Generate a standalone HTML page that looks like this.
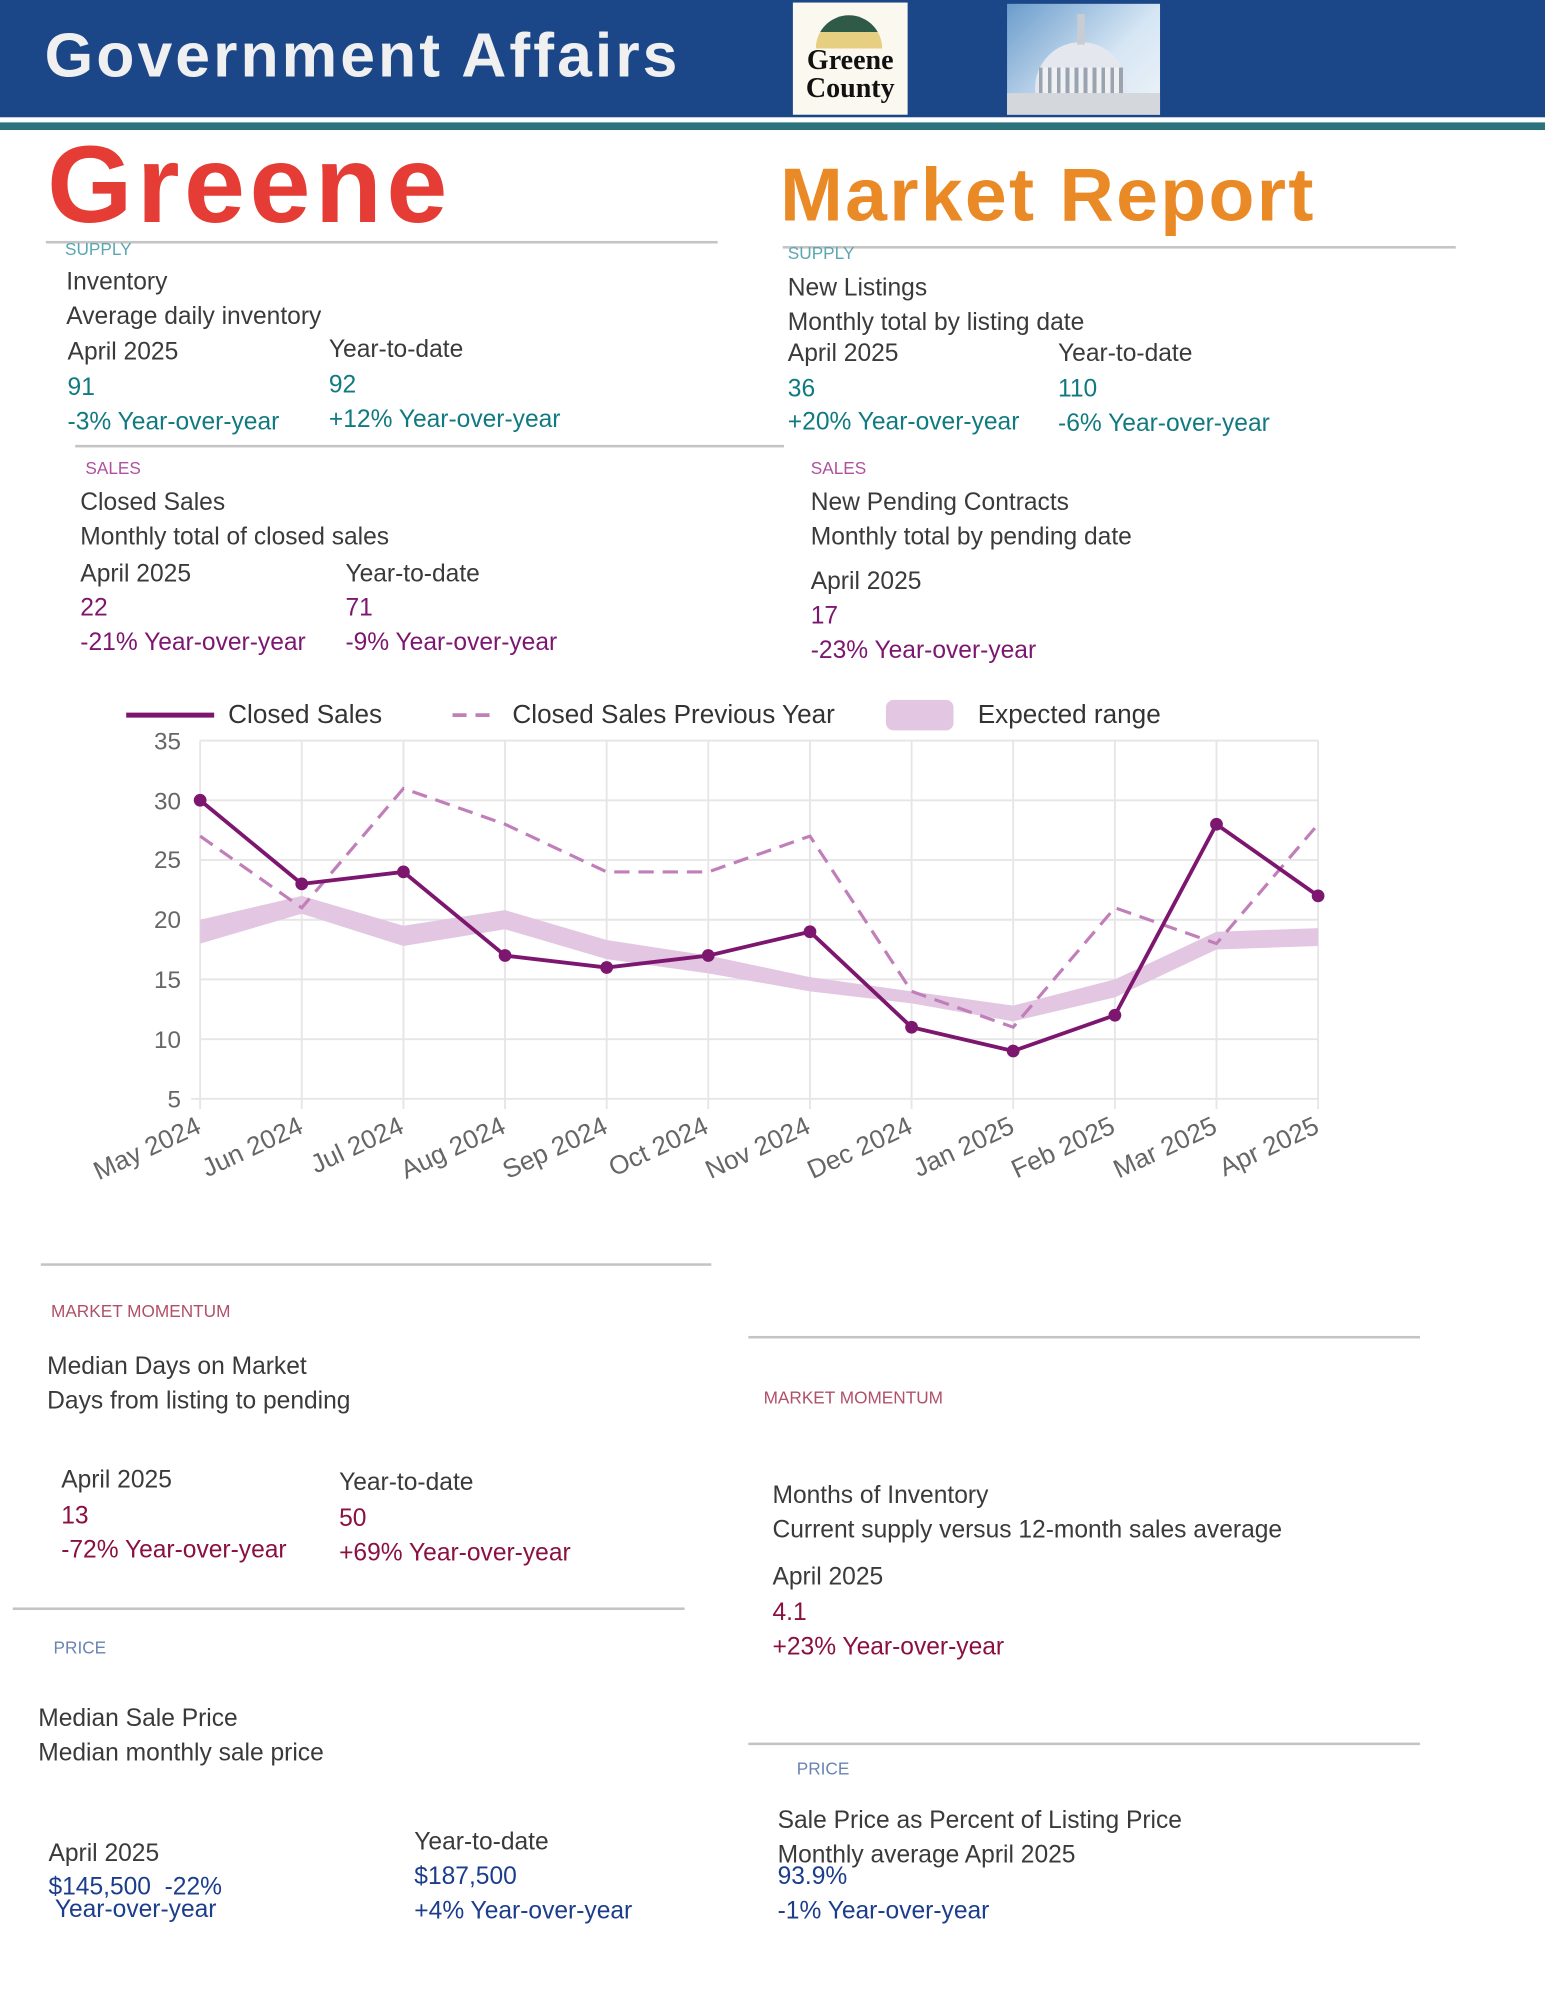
<!DOCTYPE html>
<html><head><meta charset="utf-8"><style>
html,body{margin:0;padding:0;background:#fff;}
body{width:1545px;height:1999px;overflow:hidden;position:relative;}
#w{position:absolute;left:0;top:0;width:1212px;height:1568px;transform:scale(1.27475);transform-origin:0 0;font-family:"Liberation Sans",Arial,sans-serif;}
.t{position:absolute;font-size:19.3px;line-height:20px;white-space:pre;color:#3a3a3a;}
.l{position:absolute;font-size:13.5px;line-height:14px;white-space:pre;}
.hr{position:absolute;height:2px;background:#c4c4c4;}
.tl{color:#117a80}.pu{color:#7d166f}.dr{color:#8a1040}.bl{color:#1b3d8c}
</style></head><body><div id="w">
<div style="position:absolute;left:0;top:0;width:1212px;height:92px;background:#1b4789"></div>
<div style="position:absolute;left:0;top:96px;width:1212px;height:6px;background:#2c727c"></div>
<div style="position:absolute;left:35px;top:15px;font-size:49px;font-weight:bold;color:#f0f0f0;line-height:58px;letter-spacing:2.4px">Government Affairs</div>
<div style="position:absolute;left:622px;top:2px;width:90px;height:88px;background:#fbf8ef;overflow:hidden">
 <div style="position:absolute;left:18px;top:10px;width:52px;height:26px;border-radius:26px 26px 0 0;background:linear-gradient(#2f5a48 50%,#e6cf80 50%)"></div>
 <div style="position:absolute;left:0;width:90px;top:34px;text-align:center;font-family:'Liberation Serif',serif;font-weight:bold;font-size:22px;line-height:22px;color:#111">Greene<br>County</div>
</div>
<div style="position:absolute;left:790px;top:3px;width:120px;height:87px;background:linear-gradient(135deg,#6b9ccc,#d6e6f4 60%,#eef3f8)">
 <div style="position:absolute;left:22px;top:30px;width:72px;height:40px;border-radius:36px 36px 0 0;background:#e4e8ee"></div>
 <div style="position:absolute;left:25px;top:50px;width:66px;height:22px;background:repeating-linear-gradient(90deg,#9aa3b0 0 3px,#eef0f4 3px 7px)"></div>
 <div style="position:absolute;left:0;top:70px;width:120px;height:17px;background:#d4d7dc"></div>
 <div style="position:absolute;left:55px;top:8px;width:6px;height:24px;background:#c8ccd3"></div>
</div>
<div style="position:absolute;left:37px;top:95px;font-size:86px;font-weight:bold;color:#e53d36;line-height:100px;letter-spacing:3.5px">Greene</div>
<div style="position:absolute;left:612px;top:118px;font-size:59px;font-weight:bold;color:#ea8a27;line-height:70px;letter-spacing:1.8px">Market Report</div>

<div class="hr" style="left:36px;top:189px;width:527px"></div>
<div class="hr" style="left:614px;top:193px;width:528px"></div>
<div class="l" style="left:51px;top:189px;color:#5aa7b1">SUPPLY</div>
<div class="t" style="left:52px;top:212px">Inventory</div>
<div class="t" style="left:52px;top:239px">Average daily inventory</div>
<div class="t" style="left:53px;top:267px">April 2025</div>
<div class="t" style="left:258px;top:265px">Year-to-date</div>
<div class="t tl" style="left:53px;top:295px">91</div>
<div class="t tl" style="left:258px;top:293px">92</div>
<div class="t tl" style="left:53px;top:322px">-3% Year-over-year</div>
<div class="t tl" style="left:258px;top:320px">+12% Year-over-year</div>

<div class="l" style="left:618px;top:192px;color:#5aa7b1">SUPPLY</div>
<div class="t" style="left:618px;top:217px">New Listings</div>
<div class="t" style="left:618px;top:244px">Monthly total by listing date</div>
<div class="t" style="left:618px;top:268px">April 2025</div>
<div class="t" style="left:830px;top:268px">Year-to-date</div>
<div class="t tl" style="left:618px;top:296px">36</div>
<div class="t tl" style="left:830px;top:296px">110</div>
<div class="t tl" style="left:618px;top:322px">+20% Year-over-year</div>
<div class="t tl" style="left:830px;top:323px">-6% Year-over-year</div>

<div class="hr" style="left:59px;top:349px;width:556px"></div>
<div class="l" style="left:67px;top:361px;color:#b0509e">SALES</div>
<div class="t" style="left:63px;top:385px">Closed Sales</div>
<div class="t" style="left:63px;top:412px">Monthly total of closed sales</div>
<div class="t" style="left:63px;top:441px">April 2025</div>
<div class="t" style="left:271px;top:441px">Year-to-date</div>
<div class="t pu" style="left:63px;top:468px">22</div>
<div class="t pu" style="left:271px;top:468px">71</div>
<div class="t pu" style="left:63px;top:495px">-21% Year-over-year</div>
<div class="t pu" style="left:271px;top:495px">-9% Year-over-year</div>

<div class="l" style="left:636px;top:361px;color:#b0509e">SALES</div>
<div class="t" style="left:636px;top:385px">New Pending Contracts</div>
<div class="t" style="left:636px;top:412px">Monthly total by pending date</div>
<div class="t" style="left:636px;top:447px">April 2025</div>
<div class="t pu" style="left:636px;top:474px">17</div>
<div class="t pu" style="left:636px;top:501px">-23% Year-over-year</div>

<svg style="position:absolute;left:0;top:0" width="1212" height="960" font-family="Liberation Sans, Arial, sans-serif">
<g stroke="#e6e6e6" stroke-width="1.5">
<line x1="157" y1="581" x2="1034" y2="581"/><line x1="157" y1="627.8" x2="1034" y2="627.8"/><line x1="157" y1="674.6" x2="1034" y2="674.6"/><line x1="157" y1="721.5" x2="1034" y2="721.5"/><line x1="157" y1="768.3" x2="1034" y2="768.3"/><line x1="157" y1="815.2" x2="1034" y2="815.2"/><line x1="150" y1="862" x2="1034" y2="862"/>
<line x1="157" y1="581" x2="157" y2="870"/><line x1="236.7" y1="581" x2="236.7" y2="870"/><line x1="316.5" y1="581" x2="316.5" y2="870"/><line x1="396.2" y1="581" x2="396.2" y2="870"/><line x1="475.9" y1="581" x2="475.9" y2="870"/><line x1="555.6" y1="581" x2="555.6" y2="870"/><line x1="635.4" y1="581" x2="635.4" y2="870"/><line x1="715.1" y1="581" x2="715.1" y2="870"/><line x1="794.8" y1="581" x2="794.8" y2="870"/><line x1="874.6" y1="581" x2="874.6" y2="870"/><line x1="954.3" y1="581" x2="954.3" y2="870"/><line x1="1034" y1="581" x2="1034" y2="870"/>
</g>
<g fill="#666" font-size="19" text-anchor="end">
<text x="142" y="588">35</text><text x="142" y="635">30</text><text x="142" y="681">25</text><text x="142" y="728">20</text><text x="142" y="775">15</text><text x="142" y="822">10</text><text x="142" y="869">5</text>
</g>
<polygon fill="#e3c6e1" points="157,721.5 236.7,702.8 316.5,726.2 396.2,714 475.9,737.4 555.6,749.6 635.4,766.5 715.1,777.7 794.8,788.9 874.6,768.3 954.3,730.9 1034,728.1 1034,742.1 954.3,744.9 874.6,782.4 794.8,801.2 715.1,787.1 635.4,777.7 555.6,763.6 475.9,752.4 396.2,729 316.5,742.1 236.7,716.8 157,740.2"/>
<polyline fill="none" stroke="#c17fba" stroke-width="2.5" stroke-dasharray="12,7" points="157,655.9 236.7,712.1 316.5,618.5 396.2,646.6 475.9,684 555.6,684 635.4,655.9 715.1,777.7 794.8,805.8 874.6,712.1 954.3,740.2 1034,646.6"/>
<polyline fill="none" stroke="#7d166f" stroke-width="3" points="157,627.8 236.7,693.4 316.5,684 396.2,749.6 475.9,759 555.6,749.6 635.4,730.9 715.1,805.8 794.8,824.5 874.6,796.4 954.3,646.6 1034,702.8"/>
<g fill="#7d166f"><circle cx="157" cy="627.8" r="5"/><circle cx="236.7" cy="693.4" r="5"/><circle cx="316.5" cy="684" r="5"/><circle cx="396.2" cy="749.6" r="5"/><circle cx="475.9" cy="759" r="5"/><circle cx="555.6" cy="749.6" r="5"/><circle cx="635.4" cy="730.9" r="5"/><circle cx="715.1" cy="805.8" r="5"/><circle cx="794.8" cy="824.5" r="5"/><circle cx="874.6" cy="796.4" r="5"/><circle cx="954.3" cy="646.6" r="5"/><circle cx="1034" cy="702.8" r="5"/></g>
<g fill="#666" font-size="20.5" text-anchor="end">
<text transform="translate(159,888) rotate(-25)">May 2024</text>
<text transform="translate(239,888) rotate(-25)">Jun 2024</text>
<text transform="translate(318,888) rotate(-25)">Jul 2024</text>
<text transform="translate(398,888) rotate(-25)">Aug 2024</text>
<text transform="translate(478,888) rotate(-25)">Sep 2024</text>
<text transform="translate(557,888) rotate(-25)">Oct 2024</text>
<text transform="translate(637,888) rotate(-25)">Nov 2024</text>
<text transform="translate(717,888) rotate(-25)">Dec 2024</text>
<text transform="translate(797,888) rotate(-25)">Jan 2025</text>
<text transform="translate(876,888) rotate(-25)">Feb 2025</text>
<text transform="translate(956,888) rotate(-25)">Mar 2025</text>
<text transform="translate(1036,888) rotate(-25)">Apr 2025</text>
</g>
<line x1="99" y1="561" x2="168" y2="561" stroke="#7d166f" stroke-width="4"/>
<text x="179" y="567" font-size="20.5" fill="#333">Closed Sales</text>
<line x1="355" y1="561" x2="390" y2="561" stroke="#c17fba" stroke-width="3" stroke-dasharray="11,7"/>
<text x="402" y="567" font-size="20.5" fill="#333">Closed Sales Previous Year</text>
<rect x="695" y="549" width="53" height="24" rx="6" fill="#e3c6e1"/>
<text x="767" y="567" font-size="20.5" fill="#333">Expected range</text>
</svg>

<div class="hr" style="left:32px;top:991px;width:526px"></div>
<div class="l" style="left:40px;top:1022px;color:#b0506a">MARKET MOMENTUM</div>
<div class="t" style="left:37px;top:1063px">Median Days on Market</div>
<div class="t" style="left:37px;top:1090px">Days from listing to pending</div>
<div class="t" style="left:48px;top:1152px">April 2025</div>
<div class="t" style="left:266px;top:1154px">Year-to-date</div>
<div class="t dr" style="left:48px;top:1180px">13</div>
<div class="t dr" style="left:266px;top:1182px">50</div>
<div class="t dr" style="left:48px;top:1207px">-72% Year-over-year</div>
<div class="t dr" style="left:266px;top:1209px">+69% Year-over-year</div>

<div class="hr" style="left:587px;top:1048px;width:527px"></div>
<div class="l" style="left:599px;top:1090px;color:#b0506a">MARKET MOMENTUM</div>
<div class="t" style="left:606px;top:1164px">Months of Inventory</div>
<div class="t" style="left:606px;top:1191px">Current supply versus 12-month sales average</div>
<div class="t" style="left:606px;top:1228px">April 2025</div>
<div class="t dr" style="left:606px;top:1256px">4.1</div>
<div class="t dr" style="left:606px;top:1283px">+23% Year-over-year</div>

<div class="hr" style="left:10px;top:1261px;width:527px"></div>
<div class="l" style="left:42px;top:1286px;color:#6a84b2">PRICE</div>
<div class="t" style="left:30px;top:1339px">Median Sale Price</div>
<div class="t" style="left:30px;top:1366px">Median monthly sale price</div>
<div class="t" style="left:38px;top:1445px">April 2025</div>
<div class="t bl" style="left:38px;top:1471px">$145,500  -22%</div>
<div class="t bl" style="left:43px;top:1489px">Year-over-year</div>
<div class="t" style="left:325px;top:1436px">Year-to-date</div>
<div class="t bl" style="left:325px;top:1463px">$187,500</div>
<div class="t bl" style="left:325px;top:1490px">+4% Year-over-year</div>

<div class="hr" style="left:587px;top:1367px;width:527px"></div>
<div class="l" style="left:625px;top:1381px;color:#6a84b2">PRICE</div>
<div class="t" style="left:610px;top:1419px">Sale Price as Percent of Listing Price</div>
<div class="t" style="left:610px;top:1446px">Monthly average April 2025</div>
<div class="t bl" style="left:610px;top:1463px">93.9%</div>
<div class="t bl" style="left:610px;top:1490px">-1% Year-over-year</div>
</div></body></html>
